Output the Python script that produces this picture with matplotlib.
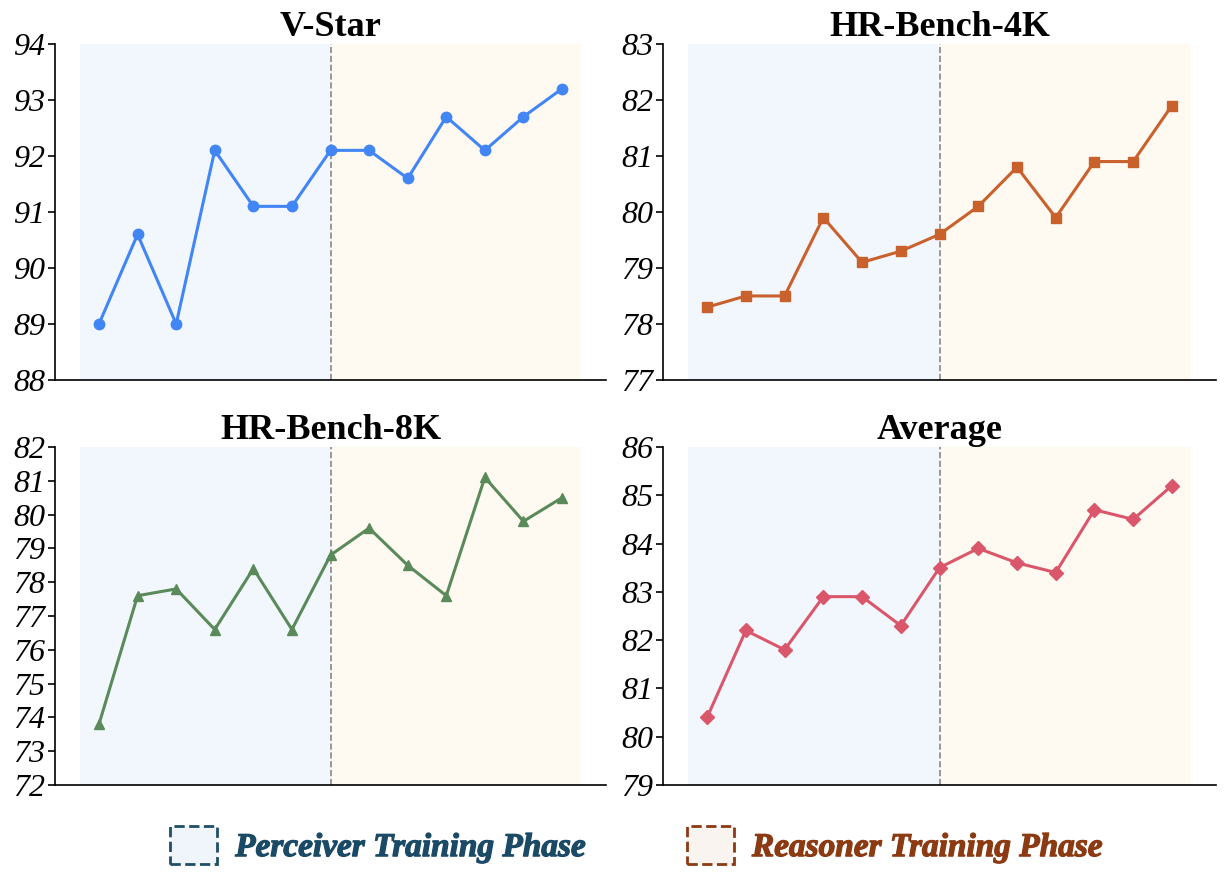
import matplotlib
matplotlib.use("Agg")
import matplotlib.pyplot as plt
from matplotlib.patches import Patch
import matplotlib.patheffects as pe

plt.rcParams['font.family'] = ['Liberation Serif', 'DejaVu Serif']

steps = list(range(13))
vstar = [89.0, 90.6, 89.0, 92.1, 91.1, 91.1, 92.1, 92.1, 91.6, 92.7, 92.1, 92.7, 93.2]
hr4k = [78.3, 78.5, 78.5, 79.9, 79.1, 79.3, 79.6, 80.1, 80.8, 79.9, 80.9, 80.9, 81.9]
hr8k = [73.8, 77.6, 77.8, 76.6, 78.4, 76.6, 78.8, 79.6, 78.5, 77.6, 81.1, 79.8, 80.5]
avg = [80.4, 82.2, 81.8, 82.9, 82.9, 82.3, 83.5, 83.9, 83.6, 83.4, 84.7, 84.5, 85.2]

titles = ["V-Star", "HR-Bench-4K", "HR-Bench-8K", "Average"]
series = [vstar, hr4k, hr8k, avg]
colors = ["#4285f4", "#c8612b", "#5b8a5a", "#d9566b"]
markers = ["o", "s", "^", "D"]
ylims = [(88, 94), (77, 83), (72, 82), (79, 86)]

phase_split = 6
blue_bg = "#f2f7fe"
yellow_bg = "#fefaf1"

fig = plt.figure(figsize=(12.25, 8.83), dpi=100)
pos = [
    [0.0449, 0.5697, 0.4498, 0.3805],
    [0.5412, 0.5697, 0.4515, 0.3805],
    [0.0449, 0.1110, 0.4498, 0.3828],
    [0.5412, 0.1110, 0.4515, 0.3828],
]

for i in range(4):
    ax = fig.add_axes(pos[i])
    ax.axvspan(-0.5, phase_split, color=blue_bg, lw=0, zorder=0)
    ax.axvspan(phase_split, 12.5, color=yellow_bg, lw=0, zorder=0)
    ax.axvline(phase_split, color="#888888", ls="--", lw=1.2, zorder=1)
    ms = 7.5 if markers[i] != "D" else 7
    ax.plot(steps, series[i], color=colors[i], marker=markers[i], lw=2.2,
            ms=ms, zorder=3)
    ax.set_xlim(-1.14, 13.14)
    ax.set_ylim(*ylims[i])
    ax.set_yticks(range(ylims[i][0], ylims[i][1] + 1))
    ax.set_xticks([])
    for lab in ax.get_yticklabels():
        lab.set_fontstyle("italic")
        lab.set_fontsize(23)
    ax.tick_params(axis="y", length=5, width=1.2, pad=2)
    ax.spines["top"].set_visible(False)
    ax.spines["right"].set_visible(False)
    ax.spines["left"].set_linewidth(1.2)
    ax.spines["bottom"].set_linewidth(1.2)
    ax.set_title(titles[i], fontsize=26, fontweight="bold", pad=4)

handles = [
    Patch(facecolor="#eff5fa", edgecolor="#1f4e66", ls="--", lw=2),
    Patch(facecolor="#f9f4ef", edgecolor="#8b3a12", ls="--", lw=2),
]
leg_colors = ["#1b4a66", "#8b3a12"]
leg = fig.legend(handles, ["Perceiver Training Phase", "Reasoner Training Phase"],
                 loc="center", bbox_to_anchor=(0.52, 0.043), ncol=2, frameon=False,
                 handlelength=1.4, handleheight=1.4, handletextpad=0.55,
                 columnspacing=3.0, labelcolor=leg_colors,
                 prop={"size": 24, "style": "italic", "weight": "bold"})
# thicken strokes a bit, bold italic looks thin here
for t, c in zip(leg.get_texts(), leg_colors):
    t.set_path_effects([pe.withStroke(linewidth=0.9, foreground=c)])

fig.savefig("out.png", dpi=100)
